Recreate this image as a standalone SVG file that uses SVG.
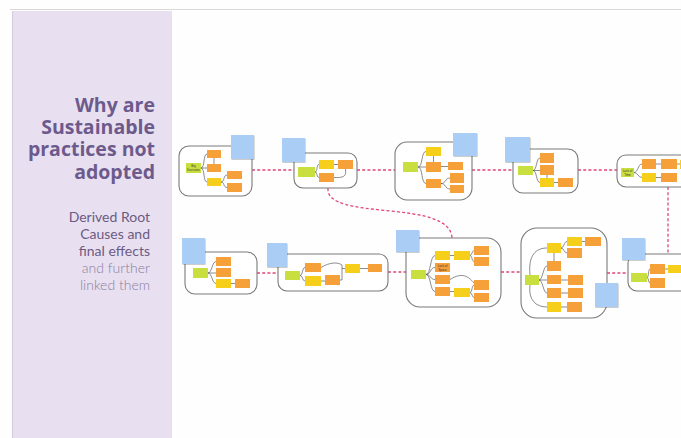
<svg xmlns="http://www.w3.org/2000/svg" width="681" height="438" viewBox="0 0 681 438">
  <defs>
    <filter id="lift" x="-20%" y="-20%" width="150%" height="150%">
      <feDropShadow dx="0.6" dy="0.8" stdDeviation="0.7" flood-color="#000" flood-opacity="0.25"/>
    </filter>
    <style>
      .frame { fill: #ffffff; stroke: #7a7a7a; stroke-width: 1.1; }
      .g { fill: #c8df3f; }
      .o { fill: #f6a03a; }
      .y { fill: #f5cf1a; }
      .n { fill: #a9cdf4; filter: url(#lift); }
      .t { fill: none; stroke: #5a5a5a; stroke-width: 0.7; }
      .link { fill: none; stroke: #e0457e; stroke-width: 1.3; stroke-dasharray: 3 2.2; }
      .lbl { font-family: "Liberation Sans", Arial, sans-serif; font-size: 3px; fill: #333; text-anchor: middle; }
      .title { font-family: "Open Sans", "Liberation Sans", sans-serif; font-weight: 700; font-size: 19.5px; fill: #6d5a8c; text-anchor: end; }
      .sub { font-family: Lato, "Liberation Sans", sans-serif; font-size: 14px; fill: #6b5b83; text-anchor: end; }
      .sub2 { font-family: Lato, "Liberation Sans", sans-serif; font-weight: 300; font-size: 14px; fill: #8b7fa0; text-anchor: end; }
    </style>
  </defs>

  <!-- page -->
  <rect x="0" y="0" width="681" height="438" fill="#fefefe"/>
  <line x1="10" y1="9.5" x2="681" y2="9.5" stroke="#d8d8d8" stroke-width="1.2"/>

  <!-- side panel -->
  <g id="side-panel">
    <rect x="12" y="11" width="160" height="427" fill="#e8e0f0"/>
    <line x1="12.5" y1="11" x2="12.5" y2="438" stroke="#d2cbd9" stroke-width="1"/>
    <text class="title" x="155" y="112">Why are</text>
    <text class="title" x="155" y="134">Sustainable</text>
    <text class="title" x="155" y="156">practices not</text>
    <text class="title" x="155" y="179">adopted</text>
    <text class="sub" x="150" y="222">Derived Root</text>
    <text class="sub" x="150" y="239">Causes and</text>
    <text class="sub" x="150" y="256">final effects</text>
    <text class="sub2" x="150" y="273">and further</text>
    <text class="sub2" x="150" y="290">linked them</text>
  </g>

  <!-- dashed links between clusters -->
  <g id="connectors">
    <path class="link" d="M252,170 H294"/>
    <path class="link" d="M357,170 H395"/>
    <path class="link" d="M472,170 H513"/>
    <path class="link" d="M578,170 H617"/>
    <path class="link" d="M328,188 C325,222 450,198 452,238"/>
    <path class="link" d="M668,187 V254"/>
    <path class="link" d="M257,273 H278"/>
    <path class="link" d="M388,272 H406"/>
    <path class="link" d="M501,272 H521"/>
    <path class="link" d="M607,273 H628"/>
  </g>

  <!-- cluster A -->
  <g id="cluster-a">
    <rect class="frame" x="179" y="146" width="73" height="50" rx="10"/>
    <path class="t" d="M201,168 C205,168 203,154 207,154 M201,168 H207 M201,168 C205,168 203,182 207,182 M214,158 V164 M221,182 C225,182 223,175 227,175 M221,182 C225,182 223,187.5 227,187.5"/>
    <rect class="g" x="186" y="163" width="15" height="10"/>
    <text class="lbl" x="193.5" y="167.3">Big</text>
    <text class="lbl" x="193.5" y="170.8">Decisions</text>
    <rect class="o" x="207" y="150" width="14" height="8"/>
    <rect class="o" x="207" y="164" width="14" height="8"/>
    <rect class="y" x="207" y="178" width="14" height="8"/>
    <rect class="o" x="227" y="171" width="15" height="8"/>
    <rect class="o" x="227" y="183" width="15" height="9"/>
    <rect class="n" x="231" y="135" width="23" height="24"/>
  </g>

  <!-- cluster B -->
  <g id="cluster-b">
    <rect class="frame" x="294" y="153" width="63" height="35" rx="9"/>
    <path class="t" d="M315,172 C318,172 316,164.5 319,164.5 M315,172 C318,172 316,177.5 319,177.5 M334,164.5 H338 M334,177.5 C346,178 346,175 345.5,169"/>
    <rect class="g" x="298" y="167" width="17" height="10"/>
    <rect class="y" x="319" y="160" width="15" height="9"/>
    <rect class="o" x="319" y="173" width="15" height="9"/>
    <rect class="o" x="338" y="160" width="15" height="9"/>
    <rect class="n" x="282" y="138" width="23" height="24"/>
  </g>

  <!-- cluster C -->
  <g id="cluster-c">
    <rect class="frame" x="395" y="142" width="77" height="58" rx="12"/>
    <path class="t" d="M418,167 C423,167 421,151.5 426,151.5 M418,167 H426 M418,167 C423,167 421,183.5 426,183.5 M433.5,156 V162 M441,166.5 H448 M441,183.5 C446,183.5 445,178 450,178 M441,183.5 C446,183.5 445,189 450,189"/>
    <rect class="g" x="403" y="162" width="15" height="10"/>
    <rect class="y" x="426" y="147" width="15" height="9"/>
    <rect class="o" x="426" y="162" width="15" height="10"/>
    <rect class="o" x="448" y="162" width="15" height="8"/>
    <rect class="o" x="426" y="179" width="15" height="9"/>
    <rect class="o" x="450" y="173" width="14" height="10"/>
    <rect class="o" x="450" y="185" width="14" height="8"/>
    <rect class="n" x="453" y="133" width="24" height="23"/>
  </g>

  <!-- cluster D -->
  <g id="cluster-d">
    <rect class="frame" x="513" y="149" width="65" height="44" rx="10"/>
    <path class="t" d="M533,170.5 C537,170.5 536,158 540,158 M533,170.5 H540 M533,170.5 C537,170.5 536,182.5 540,182.5 M547,175 V178 M554,182.5 H558"/>
    <rect class="g" x="518" y="166" width="15" height="9"/>
    <rect class="o" x="540" y="153" width="14" height="10"/>
    <rect class="o" x="540" y="165" width="14" height="10"/>
    <rect class="y" x="540" y="178" width="14" height="9"/>
    <rect class="o" x="558" y="178" width="15" height="9"/>
    <rect class="n" x="505" y="137" width="25" height="25"/>
  </g>

  <!-- cluster E -->
  <g id="cluster-e">
    <rect class="frame" x="617" y="155" width="90" height="32" rx="9"/>
    <path class="t" d="M634,172.5 C638,172.5 638,164 642,164 M634,172.5 C638,172.5 638,177.5 642,177.5 M656,164 H661 M656,177.5 H661 M677,164 H680"/>
    <rect class="g" x="621" y="168" width="13" height="9"/>
    <text class="lbl" x="627.5" y="172">Lack of</text>
    <text class="lbl" x="627.5" y="175.5">Time</text>
    <rect class="o" x="642" y="159" width="14" height="10"/>
    <rect class="y" x="642" y="173" width="14" height="9"/>
    <rect class="o" x="661" y="159" width="16" height="10"/>
    <rect class="o" x="661" y="173" width="16" height="9"/>
    <rect class="y" x="680" y="160" width="14" height="9"/>
  </g>

  <!-- cluster F -->
  <g id="cluster-f">
    <rect class="frame" x="185" y="252" width="72" height="42" rx="10"/>
    <path class="t" d="M208,273 C212,273 212,261.5 216,261.5 M208,273 H216 M208,273 C212,273 212,283.5 216,283.5 M231,283.5 H235"/>
    <rect class="g" x="193" y="268" width="15" height="10"/>
    <rect class="o" x="216" y="257" width="15" height="9"/>
    <rect class="o" x="216" y="268" width="15" height="9"/>
    <rect class="y" x="216" y="279" width="15" height="9"/>
    <rect class="o" x="235" y="279" width="15" height="9"/>
    <rect class="n" x="182" y="238" width="23" height="26"/>
  </g>

  <!-- cluster G -->
  <g id="cluster-g">
    <rect class="frame" x="278" y="254" width="110" height="37" rx="9"/>
    <path class="t" d="M300,275.5 C303,275.5 302,267.5 305,267.5 M300,275.5 C303,275.5 302,281 305,281 M321,281 H325 M321,267.5 C330,262 338,262 342,265 V280 H340 M342,268.5 H345 M360,268.5 H368"/>
    <rect class="g" x="285" y="271" width="15" height="9"/>
    <rect class="o" x="305" y="263" width="16" height="9"/>
    <rect class="y" x="305" y="276" width="16" height="10"/>
    <rect class="o" x="325" y="275" width="15" height="10"/>
    <rect class="y" x="345" y="264" width="15" height="9"/>
    <rect class="o" x="368" y="264" width="14" height="8"/>
    <rect class="n" x="267" y="243" width="20" height="24"/>
  </g>

  <!-- cluster H -->
  <g id="cluster-h">
    <rect class="frame" x="406" y="238" width="95" height="69" rx="14"/>
    <path class="t" d="M426,274.5 C431,274.5 430,255.5 435,255.5 M426,274.5 C431,274.5 430,267.5 435,267.5 M426,274.5 C431,274.5 430,279.5 435,279.5 M426,274.5 C431,274.5 430,291.5 435,291.5 M450,255.5 H454 M470,255.5 C472,255.5 472,250.5 474,250.5 M470,255.5 C472,255.5 472,261.5 474,261.5 M450,291.5 H454 M470,292.5 C472,292.5 472,285 474,285 M470,292.5 C472,292.5 472,297.5 474,297.5 M450,279.5 C462,272 468,276 474,283"/>
    <rect class="g" x="411" y="270" width="15" height="9"/>
    <rect class="y" x="435" y="251" width="15" height="9"/>
    <rect class="o" x="435" y="263" width="15" height="9"/>
    <text class="lbl" x="442.5" y="267">Lack of</text>
    <text class="lbl" x="442.5" y="270.5">Space</text>
    <rect class="o" x="435" y="275" width="15" height="9"/>
    <rect class="o" x="435" y="287" width="15" height="9"/>
    <rect class="y" x="454" y="251" width="16" height="9"/>
    <rect class="o" x="474" y="246" width="15" height="9"/>
    <rect class="o" x="474" y="257" width="15" height="9"/>
    <rect class="y" x="454" y="288" width="16" height="9"/>
    <rect class="o" x="474" y="280" width="15" height="10"/>
    <rect class="o" x="474" y="293" width="15" height="9"/>
    <rect class="n" x="396" y="230" width="23" height="22"/>
  </g>

  <!-- cluster I -->
  <g id="cluster-i">
    <rect class="frame" x="521" y="228" width="86" height="90" rx="16"/>
    <path class="t" d="M530,275 C528,255 536,248 547,248 M530,285 C528,300 536,307 547,307 M539,280 C543,280 543,266 547,266 M539,280 H547 M539,280 C543,280 543,293 547,293 M554,261 V253 M561,248 C564,248 564,241.5 567,241.5 M561,248 C564,248 564,253 567,253 M582,241.5 H585 M561,280 H568 M561,293 H568 M561,307 H567"/>
    <rect class="g" x="525" y="275" width="14" height="10"/>
    <rect class="y" x="547" y="243" width="14" height="10"/>
    <rect class="y" x="567" y="237" width="15" height="9"/>
    <rect class="o" x="567" y="248" width="15" height="10"/>
    <rect class="o" x="585" y="237" width="16" height="9"/>
    <rect class="o" x="547" y="261" width="14" height="10"/>
    <rect class="o" x="547" y="275" width="14" height="9"/>
    <rect class="o" x="568" y="275" width="15" height="10"/>
    <rect class="o" x="547" y="288" width="14" height="10"/>
    <rect class="o" x="568" y="288" width="15" height="10"/>
    <rect class="y" x="547" y="302" width="14" height="10"/>
    <rect class="o" x="567" y="302" width="15" height="10"/>
    <rect class="n" x="595" y="283" width="23" height="24"/>
  </g>

  <!-- cluster J -->
  <g id="cluster-j">
    <rect class="frame" x="628" y="254" width="80" height="37" rx="9"/>
    <path class="t" d="M647,277.5 C649,277.5 648,269 650,269 M647,277.5 C649,277.5 648,283 650,283 M665,269 H668"/>
    <rect class="g" x="631" y="273" width="16" height="9"/>
    <rect class="o" x="650" y="264" width="15" height="10"/>
    <rect class="y" x="668" y="265" width="15" height="8"/>
    <rect class="o" x="650" y="278" width="15" height="10"/>
    <rect class="n" x="622" y="238" width="23" height="22"/>
  </g>
</svg>
